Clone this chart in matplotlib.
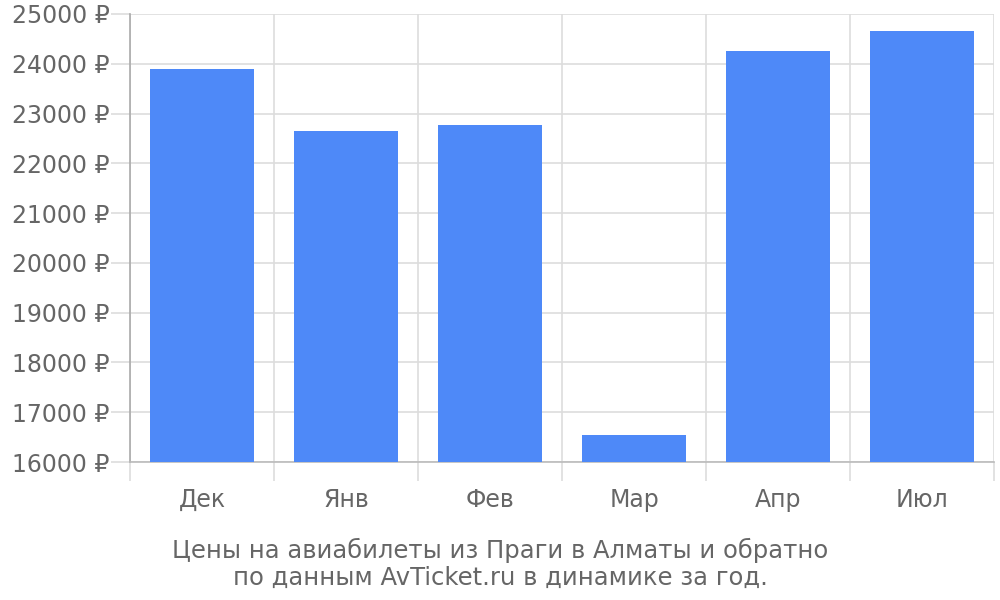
import matplotlib
matplotlib.use('Agg')
import matplotlib.pyplot as plt
from matplotlib.ticker import FixedLocator

months = ['Дек', 'Янв', 'Фев', 'Мар', 'Апр', 'Июл']
prices = [23900, 22650, 22770, 16540, 24250, 24650]
yticks = list(range(16000, 25001, 1000))
caption = 'Цены на авиабилеты из Праги в Алматы и обратно\nпо данным AvTicket.ru в динамике за год.'

grey_text = '#666666'
grid_col = '#dddddd'

fig = plt.figure(figsize=(10, 6), dpi=100)
ax = fig.add_axes([0.13, 0.23, 0.864, 0.7467])

x = range(len(months))
ax.bar(x, [p - 16000 for p in prices], bottom=16000, width=0.72,
       color='#4e89f8', zorder=3)

ax.set_xlim(-0.5, len(months) - 0.5)
ax.set_ylim(16000, 25000)
ax.set_yticks(yticks)
ax.set_yticklabels(['%d ₽' % v for v in yticks])
ax.set_xticks(list(x))
ax.set_xticklabels(months)
ax.xaxis.set_minor_locator(FixedLocator([i - 0.5 for i in range(len(months) + 1)]))

ax.grid(axis='y', color=grid_col, linewidth=1.2, zorder=0)
ax.grid(axis='x', which='minor', color=grid_col, linewidth=1.2, zorder=0)

ax.tick_params(axis='x', which='major', length=0, pad=19, labelsize=17, labelcolor=grey_text)
ax.tick_params(axis='x', which='minor', length=13.5, width=1.2, color=grid_col)
ax.tick_params(axis='y', length=13.5, width=1.2, color=grid_col, pad=1,
               labelsize=17, labelcolor=grey_text)

for s in ['top', 'right']:
    ax.spines[s].set_visible(False)
ax.spines['left'].set_color('#aaaaaa')
ax.spines['left'].set_bounds(16000, 25000)
ax.spines['bottom'].set_color('#bbbbbb')
ax.spines['bottom'].set_linewidth(1.2)
ax.spines['left'].set_linewidth(1.2)

fig.text(0.5, 0.016, caption, ha='center', va='bottom', fontsize=17.5,
         color=grey_text, linespacing=1.2)

fig.savefig('out.png', dpi=100)
